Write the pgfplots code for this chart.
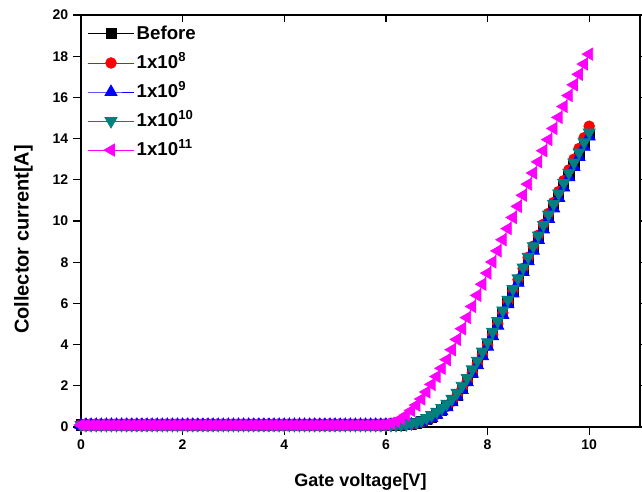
\documentclass[border=0pt]{standalone}
\usepackage{fontspec}
\setmainfont{Liberation Sans}
\usepackage{pgfplots}
\usepackage{pgfplotstable}
\pgfplotsset{compat=1.18}
\definecolor{cteal}{RGB}{0,128,128}
\definecolor{cmag}{RGB}{255,0,255}
\pgfplotstableread{
V K R B T M
0.0 0.1 0.1 0.1 0.1 0.1
0.1 0.1 0.1 0.1 0.1 0.1
0.2 0.1 0.1 0.1 0.1 0.1
0.3 0.1 0.1 0.1 0.1 0.1
0.4 0.1 0.1 0.1 0.1 0.1
0.5 0.1 0.1 0.1 0.1 0.1
0.6 0.1 0.1 0.1 0.1 0.1
0.7 0.1 0.1 0.1 0.1 0.1
0.8 0.1 0.1 0.1 0.1 0.1
0.9 0.1 0.1 0.1 0.1 0.1
1.0 0.1 0.1 0.1 0.1 0.1
1.1 0.1 0.1 0.1 0.1 0.1
1.2 0.1 0.1 0.1 0.1 0.1
1.3 0.1 0.1 0.1 0.1 0.1
1.4 0.1 0.1 0.1 0.1 0.1
1.5 0.1 0.1 0.1 0.1 0.1
1.6 0.1 0.1 0.1 0.1 0.1
1.7 0.1 0.1 0.1 0.1 0.1
1.8 0.1 0.1 0.1 0.1 0.1
1.9 0.1 0.1 0.1 0.1 0.1
2.0 0.1 0.1 0.1 0.1 0.1
2.1 0.1 0.1 0.1 0.1 0.1
2.2 0.1 0.1 0.1 0.1 0.1
2.3 0.1 0.1 0.1 0.1 0.1
2.4 0.1 0.1 0.1 0.1 0.1
2.5 0.1 0.1 0.1 0.1 0.1
2.6 0.1 0.1 0.1 0.1 0.1
2.7 0.1 0.1 0.1 0.1 0.1
2.8 0.1 0.1 0.1 0.1 0.1
2.9 0.1 0.1 0.1 0.1 0.1
3.0 0.1 0.1 0.1 0.1 0.1
3.1 0.1 0.1 0.1 0.1 0.1
3.2 0.1 0.1 0.1 0.1 0.1
3.3 0.1 0.1 0.1 0.1 0.1
3.4 0.1 0.1 0.1 0.1 0.1
3.5 0.1 0.1 0.1 0.1 0.1
3.6 0.1 0.1 0.1 0.1 0.1
3.7 0.1 0.1 0.1 0.1 0.1
3.8 0.1 0.1 0.1 0.1 0.1
3.9 0.1 0.1 0.1 0.1 0.1
4.0 0.1 0.1 0.1 0.1 0.1
4.1 0.1 0.1 0.1 0.1 0.1
4.2 0.1 0.1 0.1 0.1 0.1
4.3 0.1 0.1 0.1 0.1 0.1
4.4 0.1 0.1 0.1 0.1 0.1
4.5 0.1 0.1 0.1 0.1 0.1
4.6 0.1 0.1 0.1 0.1 0.1
4.7 0.1 0.1 0.1 0.1 0.1
4.8 0.1 0.1 0.1 0.1 0.1
4.9 0.1 0.1 0.1 0.1 0.1
5.0 0.1 0.1 0.1 0.1 0.1
5.1 0.1 0.1 0.1 0.1 0.1
5.2 0.1 0.1 0.1 0.1 0.1
5.3 0.1 0.1 0.1 0.1 0.1
5.4 0.1 0.1 0.1 0.1 0.1
5.5 0.1 0.1 0.1 0.1 0.1
5.6 0.1 0.1 0.1 0.1 0.1
5.7 0.1 0.1 0.1 0.1 0.1
5.8 0.1 0.1 0.1 0.1 0.1
5.9 0.1 0.1 0.1 0.1 0.11
6.0 0.1 0.1 0.1 0.1 0.13
6.1 0.1 0.1 0.1 0.1 0.18
6.2 0.1 0.1 0.1 0.1 0.27
6.3 0.1 0.1 0.1 0.11 0.40
6.4 0.11 0.11 0.11 0.13 0.58
6.5 0.13 0.13 0.12 0.17 0.80
6.6 0.18 0.17 0.16 0.23 1.06
6.7 0.25 0.24 0.22 0.32 1.36
6.8 0.36 0.34 0.32 0.44 1.70
6.9 0.49 0.47 0.44 0.58 2.07
7.0 0.65 0.62 0.59 0.74 2.45
7.1 0.83 0.80 0.76 0.92 2.85
7.2 1.04 1.00 0.96 1.13 3.27
7.3 1.28 1.24 1.20 1.37 3.75
7.4 1.56 1.52 1.48 1.66 4.25
7.5 1.89 1.85 1.80 2.00 4.77
7.6 2.26 2.22 2.17 2.38 5.31
7.7 2.67 2.63 2.58 2.80 5.85
7.8 3.10 3.06 3.00 3.22 6.39
7.9 3.54 3.50 3.44 3.66 6.93
8.0 4.00 3.97 3.90 4.12 7.47
8.1 4.50 4.48 4.40 4.62 8.01
8.2 5.02 5.01 4.92 5.14 8.55
8.3 5.54 5.54 5.44 5.66 9.09
8.4 6.06 6.08 5.96 6.18 9.63
8.5 6.58 6.62 6.48 6.70 10.17
8.6 7.10 7.16 7.00 7.22 10.71
8.7 7.62 7.70 7.52 7.74 11.25
8.8 8.14 8.24 8.04 8.26 11.79
8.9 8.66 8.78 8.56 8.78 12.33
9.0 9.18 9.31 9.08 9.30 12.87
9.1 9.69 9.84 9.59 9.81 13.41
9.2 10.20 10.37 10.10 10.32 13.95
9.3 10.71 10.90 10.61 10.83 14.49
9.4 11.22 11.43 11.12 11.34 15.03
9.5 11.72 11.96 11.62 11.84 15.56
9.6 12.22 12.48 12.12 12.34 16.09
9.7 12.72 13.00 12.62 12.84 16.61
9.8 13.21 13.52 13.11 13.33 17.12
9.9 13.70 14.04 13.60 13.82 17.62
10.0 14.20 14.60 14.10 14.30 18.10
}\datatable
\begin{document}
\begin{tikzpicture}
\begin{axis}[
  at={(0pt,0pt)}, anchor=south west,
  scale only axis, width=419.25pt, height=309pt,
  xmin=0, xmax=11, ymin=0, ymax=20,
  xtick={0,2,...,10}, ytick={0,2,...,20},
  xtick pos=left, ytick pos=both,
  tick align=outside, major tick length=6pt,
  axis line style={line width=1pt}, tick style={line width=1pt, black},
  /pgf/number format/assume math mode=true,
  ticklabel style={font=\fontsize{10.5}{12}\selectfont\bfseries},
  xlabel={Gate voltage[V]}, ylabel={Collector current[A]},
  xlabel style={font=\fontsize{13.5}{16}\selectfont\bfseries, at={(axis description cs:0.5,-0.133)}, anchor=center},
  ylabel style={font=\fontsize{15}{18}\selectfont\bfseries, at={(axis description cs:-0.103,0.455)}, anchor=center},
  legend style={draw=none, fill=none, at={(axis description cs:0.0,1)}, anchor=north west, xshift=2pt, yshift=-4pt,
    font=\fontsize{14}{16}\selectfont\bfseries, row sep=6.5pt},
  legend cell align=left,
  legend image code/.code={\draw[mark repeat=2,mark phase=2,#1] plot coordinates {(0pt,0pt) (17pt,0pt) (34pt,0pt)};},
  every axis plot/.append style={line width=0.6pt},
]
\addplot[black, mark=square*, mark size=3.8pt, mark options={solid}] table[x=V,y=K] {\datatable};
\addlegendentry{Before}
\addplot[red, mark=*, mark size=4pt] table[x=V,y=R] {\datatable};
\addlegendentry{1x10\smash{\textsuperscript{8}}}
\addplot[blue, mark=triangle*, mark size=5.2pt] table[x=V,y=B] {\datatable};
\addlegendentry{1x10\smash{\textsuperscript{9}}}
\addplot[cteal, mark=triangle*, mark size=5.2pt, mark options={rotate=180}] table[x=V,y=T] {\datatable};
\addlegendentry{1x10\smash{\textsuperscript{10}}}
\addplot[cmag, mark=triangle*, mark size=5.2pt, mark options={rotate=90}] table[x=V,y=M] {\datatable};
\addlegendentry{1x10\smash{\textsuperscript{11}}}
\end{axis}
\begin{axis}[
  at={(0pt,0pt)}, anchor=south west,
  scale only axis, width=419.25pt, height=309pt,
  xmin=0, xmax=11, ymin=0, ymax=20,
  axis x line*=top, axis y line=none,
  xtick={0,2,...,10}, xticklabels={},
  tick align=inside, major tick length=5pt,
  axis line style={line width=1pt}, tick style={line width=1pt, black},
]
\addplot[draw=none] coordinates {(0,0)};
\end{axis}
\pgfresetboundingbox
\path[use as bounding box] (-60.75pt,-48.75pt) rectangle (420.75pt,320.25pt);
\end{tikzpicture}
\end{document}
